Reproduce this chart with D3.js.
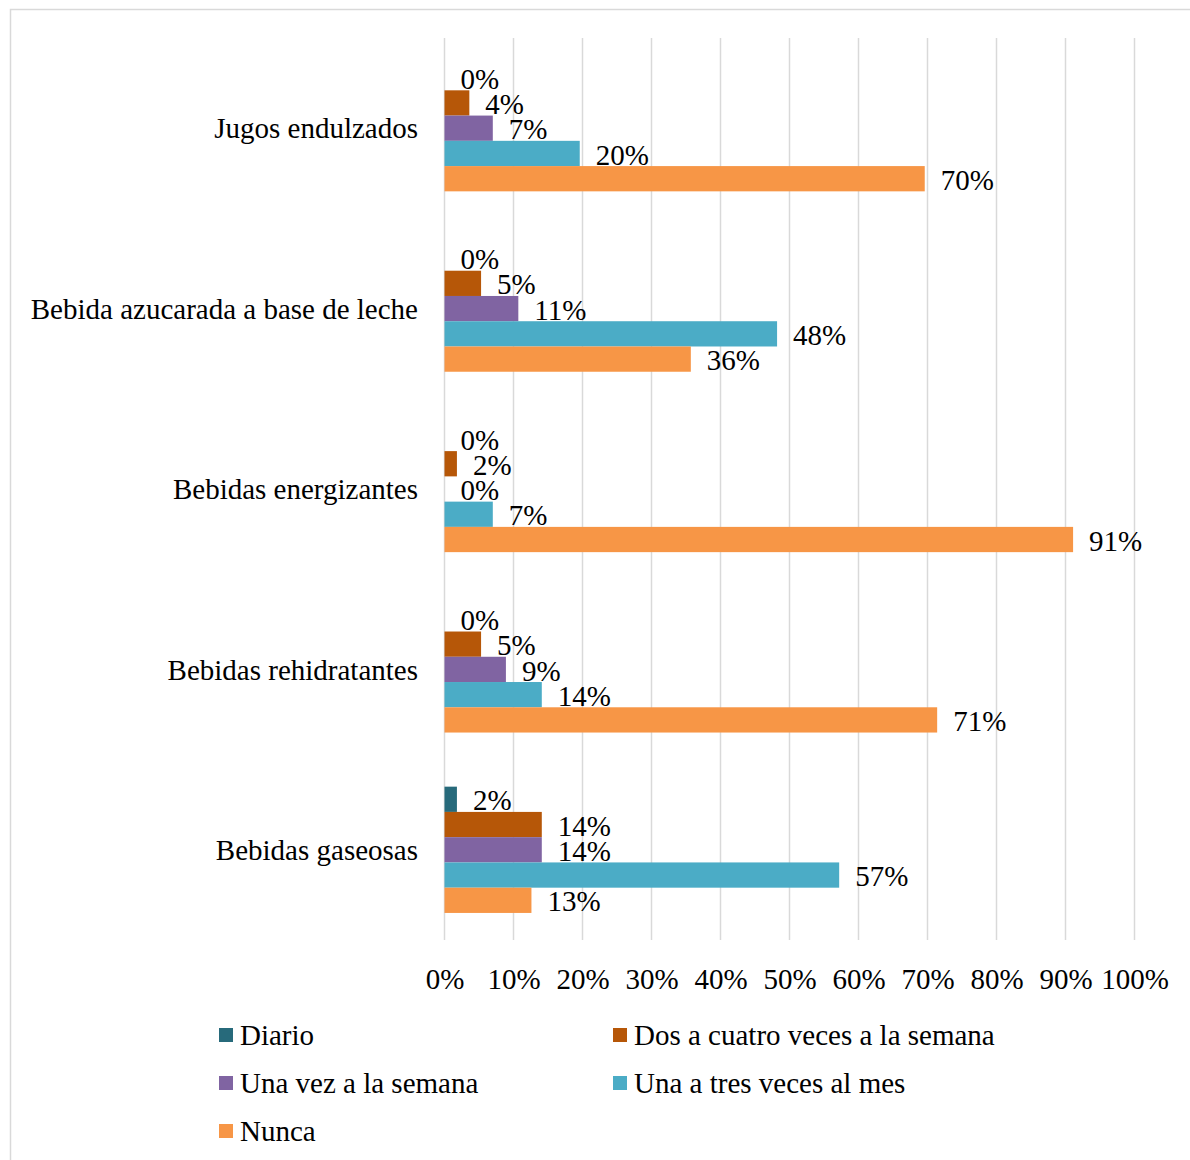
<!DOCTYPE html>
<html>
<head>
<meta charset="utf-8">
<script src="https://cdn.jsdelivr.net/npm/d3@7"></script>
<style>
  body { margin: 0; background: #fff; }
  text { font-family: "Liberation Serif", "Times New Roman", serif; fill: #000; }
</style>
</head>
<body>
<svg id="drawing_region"></svg>
<script>
// categories top to bottom
const categories = [
    'Jugos endulzados',
    'Bebida azucarada a base de leche',
    'Bebidas energizantes',
    'Bebidas rehidratantes',
    'Bebidas gaseosas'
];

const seriesNames = [
    'Diario',
    'Dos a cuatro veces a la semana',
    'Una vez a la semana',
    'Una a tres veces al mes',
    'Nunca'
];

const seriesColors = ['#276a7b', '#b65708', '#8064a2', '#4bacc6', '#f79646'];

// percent values per series, same order as categories
const diario      = [0,    0,    0,    0,    1.8];
const dosACuatro  = [3.6,  5.3,  1.8,  5.3,  14.1];
const unaVez      = [7.0,  10.7, 0,    8.9,  14.1];
const unaATres    = [19.6, 48.2, 7.0,  14.1, 57.2];
const nunca       = [69.6, 35.7, 91.1, 71.4, 12.6];

const xTicks = [0, 10, 20, 30, 40, 50, 60, 70, 80, 90, 100];

const seriesValues = [diario, dosACuatro, unaVez, unaATres, nunca];

const config = {
    width: 1190,
    height: 1160,
    plot: {left: 444.5, right: 1134.5, top: 38, bottom: 940},
    fontSize: 29
};

const svg = d3.select('#drawing_region')
    .attr('width', config.width)
    .attr('height', config.height);

// outer frame
svg.append('rect')
    .attr('x', 10.5).attr('y', 9.5)
    .attr('width', 1300).attr('height', 1300)
    .attr('fill', 'none')
    .attr('stroke', '#d9d9d9')
    .attr('stroke-width', 1.5);

const xscale = d3.scaleLinear()
    .domain([0, 100])
    .range([config.plot.left, config.plot.right]);

const yscale = d3.scaleBand()
    .domain(categories)
    .range([config.plot.top, config.plot.bottom])
    .paddingInner(0.3)
    .paddingOuter(0.15);

const inner = d3.scaleBand()
    .domain(seriesNames)
    .range([0, yscale.bandwidth()]);

// gridlines
svg.append('g').selectAll('line')
    .data(xTicks)
    .join('line')
    .attr('x1', d => xscale(d)).attr('x2', d => xscale(d))
    .attr('y1', config.plot.top).attr('y2', config.plot.bottom)
    .attr('stroke', '#d9d9d9')
    .attr('stroke-width', 1.5);

// x axis labels
const xaxis = d3.axisBottom(xscale)
    .tickValues(xTicks)
    .tickFormat(d => d + '%')
    .tickSize(0)
    .tickPadding(28);

svg.append('g')
    .attr('transform', `translate(0, ${config.plot.bottom})`)
    .call(xaxis)
    .call(g => g.select('.domain').remove())
    .selectAll('text')
    .style('font-family', '"Liberation Serif", "Times New Roman", serif')
    .style('font-size', config.fontSize + 'px')
    .attr('fill', '#000');

// category labels
svg.append('g').selectAll('text')
    .data(categories)
    .join('text')
    .attr('x', 418)
    .attr('y', d => yscale(d) + yscale.bandwidth() / 2)
    .attr('dy', '0.35em')
    .attr('text-anchor', 'end')
    .style('font-size', config.fontSize + 'px')
    .text(d => d);

// flatten into rows for bars
const rows = [];
seriesNames.forEach((s, si) => {
    categories.forEach((c, ci) => {
        rows.push({series: s, category: c, value: seriesValues[si][ci], color: seriesColors[si]});
    });
});

const chart = svg.append('g');

chart.selectAll('rect')
    .data(rows)
    .join('rect')
    .attr('x', xscale(0))
    .attr('y', d => yscale(d.category) + inner(d.series))
    .attr('width', d => xscale(d.value) - xscale(0))
    .attr('height', inner.bandwidth())
    .attr('fill', d => d.color);

chart.selectAll('text')
    .data(rows)
    .join('text')
    .attr('x', d => xscale(d.value) + 16)
    .attr('y', d => yscale(d.category) + inner(d.series) + inner.bandwidth() / 2 + 1)
    .attr('dy', '0.35em')
    .style('font-size', config.fontSize + 'px')
    .text(d => Math.round(d.value) + '%');

// legend
const legend = svg.append('g');
const legendPos = (i) => ({x: i % 2 === 0 ? 219 : 613, y: 1035 + Math.floor(i / 2) * 48});

const items = legend.selectAll('g')
    .data(seriesNames)
    .join('g')
    .attr('transform', (d, i) => `translate(${legendPos(i).x}, ${legendPos(i).y})`);

items.append('rect')
    .attr('x', 0).attr('y', -7)
    .attr('width', 14).attr('height', 14)
    .attr('fill', (d, i) => seriesColors[i]);

items.append('text')
    .attr('x', 21)
    .attr('y', 0)
    .attr('dy', '0.35em')
    .style('font-size', config.fontSize + 'px')
    .text(d => d);
</script>
</body>
</html>
